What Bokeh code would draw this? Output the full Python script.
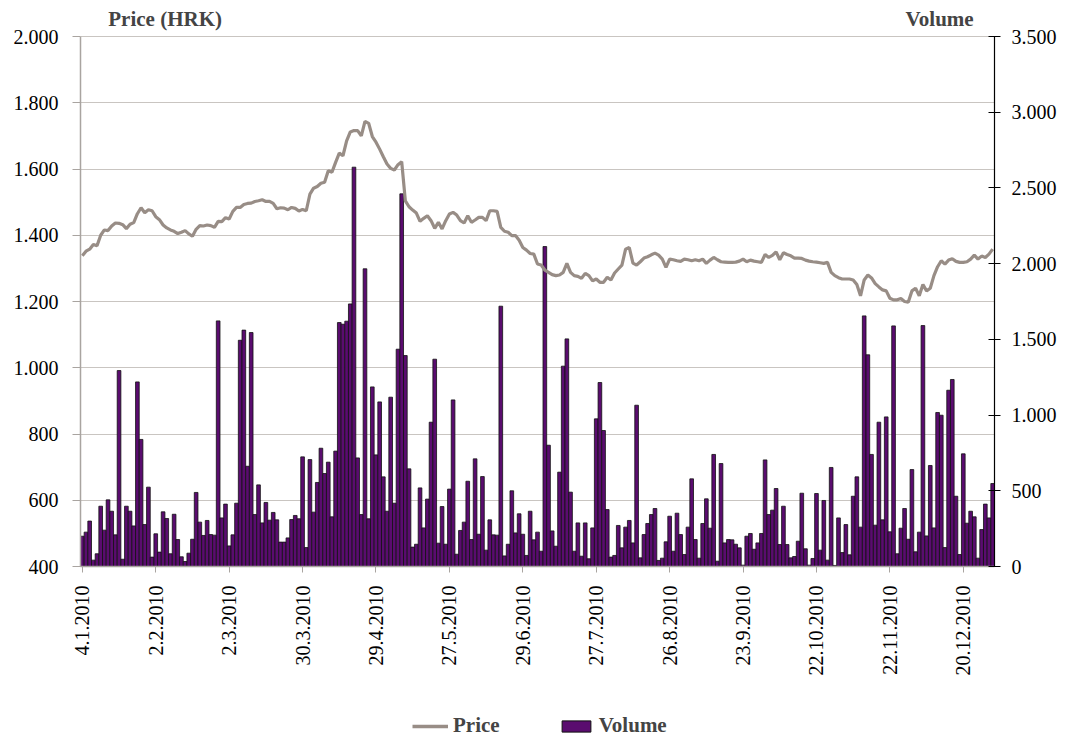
from math import pi
from bokeh.plotting import figure
from bokeh.layouts import column
from bokeh.models import (Range1d, LinearAxis, FixedTicker, Legend, LegendItem, Label)
from bokeh.embed import file_html
from bokeh.resources import INLINE

# ---------------- data ----------------
price = [
    1338, 1352, 1358, 1372, 1368, 1400, 1416, 1414, 1428, 1437,
    1436, 1432, 1420, 1433, 1438, 1465, 1483, 1468, 1477, 1474,
    1456, 1447, 1431, 1422, 1416, 1412, 1405, 1409, 1414, 1404,
    1397, 1418, 1429, 1428, 1431, 1429, 1424, 1442, 1441, 1453,
    1449, 1472, 1484, 1484, 1493, 1496, 1497, 1502, 1504, 1507,
    1502, 1502, 1496, 1480, 1483, 1482, 1477, 1484, 1481, 1473,
    1478, 1474, 1524, 1542, 1547, 1557, 1560, 1595, 1590, 1620,
    1648, 1640, 1685, 1712, 1716, 1716, 1700, 1744, 1738, 1698,
    1681, 1660, 1637, 1615, 1602, 1597, 1613, 1622, 1504, 1486,
    1476, 1467, 1442, 1451, 1459, 1444, 1421, 1439, 1419, 1444,
    1464, 1469, 1461, 1444, 1437, 1459, 1439, 1446, 1454, 1454,
    1444, 1474, 1474, 1472, 1424, 1412, 1409, 1399, 1399, 1385,
    1363, 1355, 1345, 1343, 1313, 1310, 1295, 1288, 1281, 1278,
    1280, 1288, 1315, 1288, 1278, 1276, 1270, 1285, 1278, 1262,
    1268, 1258, 1258, 1273, 1265, 1286, 1298, 1310, 1358, 1363,
    1316, 1310, 1320, 1331, 1335, 1341, 1346, 1340, 1328, 1303,
    1328, 1326, 1323, 1321, 1328, 1326, 1323, 1326, 1323, 1328,
    1315, 1325, 1333, 1326, 1320, 1319, 1318, 1318, 1319, 1322,
    1328, 1320, 1325, 1322, 1320, 1318, 1342, 1333, 1339, 1350,
    1326, 1347, 1342, 1338, 1331, 1331, 1330, 1325, 1322, 1320,
    1319, 1317, 1315, 1318, 1288, 1278, 1272, 1268, 1268, 1268,
    1265, 1251, 1217, 1265, 1280, 1271, 1254, 1244, 1235, 1232,
    1210, 1205, 1205, 1209, 1200, 1198, 1232, 1240, 1217, 1251,
    1232, 1240, 1278, 1305, 1323, 1313, 1325, 1329, 1321, 1318,
    1318, 1320, 1328, 1340, 1328, 1337, 1333, 1343, 1358,
]

volume = [
    200, 227, 300, 42, 84, 398, 240, 440, 365, 209,
    1294, 48, 398, 365, 268, 1219, 839, 277, 524, 62,
    216, 95, 361, 317, 84, 345, 178, 64, 33, 88,
    180, 489, 293, 205, 304, 211, 207, 1622, 321, 412,
    136, 209, 418, 1494, 1561, 662, 1545, 343, 539, 288,
    423, 306, 357, 308, 161, 161, 189, 310, 337, 315,
    724, 125, 706, 359, 555, 781, 614, 689, 328, 762,
    1611, 1600, 1620, 1734, 2637, 717, 343, 1966, 315, 1186,
    737, 1087, 592, 365, 1118, 418, 1435, 2461, 1393, 645,
    128, 147, 519, 255, 445, 953, 1369, 154, 396, 147,
    511, 1100, 81, 238, 293, 563, 178, 711, 213, 594,
    108, 308, 209, 207, 1719, 70, 147, 500, 222, 348,
    213, 73, 365, 176, 227, 101, 2113, 801, 235, 134,
    623, 1323, 1503, 491, 101, 288, 68, 288, 51, 255,
    975, 1215, 898, 376, 62, 73, 271, 123, 260, 304,
    156, 1065, 57, 211, 284, 343, 383, 40, 55, 163,
    332, 101, 352, 211, 79, 260, 579, 178, 55, 284,
    447, 253, 740, 35, 680, 156, 178, 176, 147, 123,
    9, 200, 218, 114, 156, 218, 704, 343, 372, 515,
    145, 398, 145, 57, 66, 167, 484, 117, 9, 53,
    482, 108, 436, 42, 654, 7, 321, 92, 277, 77,
    464, 592, 260, 1655, 1398, 740, 273, 953, 308, 988,
    229, 1589, 84, 253, 383, 180, 640, 97, 227, 1591,
    202, 667, 255, 1017, 999, 125, 1164, 1235, 464, 79,
    744, 286, 365, 328, 55, 244, 412, 321, 548,
]

date_labels = ["4.1.2010", "2.2.2010", "2.3.2010", "30.3.2010", "29.4.2010",
               "27.5.2010", "29.6.2010", "27.7.2010", "26.8.2010", "23.9.2010",
               "22.10.2010", "22.11.2010", "20.12.2010"]
label_every = 20

price_ticks = [400, 600, 800, 1000, 1200, 1400, 1600, 1800, 2000]
volume_ticks = [0, 500, 1000, 1500, 2000, 2500, 3000, 3500]
price_min, price_max = 400, 2000
vol_min, vol_max = 0, 3500


def fmt(v):
    return f"{v:,}".replace(",", ".")


# ---------------- layout geometry (pixels) ----------------
W = 1059
MAIN_H = 712
LEG_H = 28
FR_LEFT, FR_RIGHT, PLOT_TOP, FR_BOTTOM = 80, 1001, 36, 566
plot_h = FR_BOTTOM - PLOT_TOP
p_per_px = (price_max - price_min) / plot_h
v_per_px = (vol_max - vol_min) / plot_h

N = len(price)
xs = list(range(N))
FONT = "Liberation Serif"
GRID = "#C9C5C1"
AXISG = "#A9A4A0"
LINE_C = "#988D86"
BAR_C = "#5A0C6F"

p = figure(width=W, height=MAIN_H,
           x_range=Range1d(-0.5, N - 0.5),
           y_range=Range1d(price_min, price_max + PLOT_TOP * p_per_px),
           output_backend="svg", toolbar_location=None,
           min_border_left=FR_LEFT, min_border_right=W - FR_RIGHT,
           min_border_top=0, min_border_bottom=MAIN_H - FR_BOTTOM)
p.extra_y_ranges = {"vol": Range1d(vol_min, vol_max + PLOT_TOP * v_per_px)}
p.outline_line_color = None
p.background_fill_color = "white"
p.border_fill_color = "white"

bars = p.vbar(x=xs, top=volume, bottom=0, width=1.0, y_range_name="vol",
              fill_color=BAR_C, line_color="#111111", line_width=0.8)
line = p.line(xs, price, line_color=LINE_C, line_width=3.2)

# grid
p.xgrid.visible = False
p.ygrid.ticker = FixedTicker(ticks=price_ticks)
p.ygrid.grid_line_color = GRID
p.ygrid.grid_line_width = 1.2

# left axis
ya = p.yaxis[0]
ya.bounds = (price_min, price_max)
ya.ticker = FixedTicker(ticks=price_ticks)
ya.major_label_overrides = {t: fmt(t) for t in price_ticks}
ya.axis_line_color = AXISG
ya.axis_line_width = 1.5
ya.major_tick_line_color = AXISG
ya.major_tick_in = 0
ya.major_tick_out = 8
ya.minor_tick_line_color = None
ya.major_label_standoff = 14
ya.major_label_text_font = FONT
ya.major_label_text_font_size = "20px"
ya.major_label_text_color = "black"

# right axis
ra = LinearAxis(y_range_name="vol", ticker=FixedTicker(ticks=volume_ticks),
                bounds=(vol_min, vol_max))
ra.major_label_overrides = {t: fmt(t) for t in volume_ticks}
ra.axis_line_color = "black"
ra.axis_line_width = 1.2
ra.major_tick_line_color = "black"
ra.major_tick_in = 6
ra.major_tick_out = 6
ra.minor_tick_line_color = None
ra.major_label_standoff = 11
ra.major_label_text_font = FONT
ra.major_label_text_font_size = "20px"
ra.major_label_text_color = "black"
p.add_layout(ra, "right")

# bottom axis
xa = p.xaxis[0]
tick_pos = [i * label_every for i in range(len(date_labels))]
xa.ticker = FixedTicker(ticks=tick_pos)
xa.major_label_overrides = {t: d for t, d in zip(tick_pos, date_labels)}
xa.major_label_orientation = pi / 2
xa.axis_line_color = AXISG
xa.axis_line_width = 1.5
xa.major_tick_line_color = AXISG
xa.major_tick_in = 0
xa.major_tick_out = 6
xa.minor_tick_line_color = None
xa.major_label_standoff = 13
xa.major_label_text_font = FONT
xa.major_label_text_font_size = "20px"
xa.major_label_text_color = "black"

# axis titles (inside the frame's headroom above the 2.000 line)
px_to_x = N / (FR_RIGHT - FR_LEFT)
title_y = price_max + (PLOT_TOP - 18) * p_per_px
p.add_layout(Label(x=(108 - FR_LEFT) * px_to_x - 0.5, y=title_y, text="Price (HRK)",
                   text_font=FONT, text_font_size="21px", text_font_style="bold",
                   text_baseline="middle", text_align="left"))
p.add_layout(Label(x=(980 - FR_LEFT) * px_to_x - 0.5, y=title_y, text="Volume",
                   text_font=FONT, text_font_size="21px", text_font_style="bold",
                   text_baseline="middle", text_align="right"))

# ---------------- legend strip (frame aligned with the chart's frame) ----------------
lg = figure(width=W, height=LEG_H, x_range=Range1d(0, 1), y_range=Range1d(0, 1),
            output_backend="svg", toolbar_location=None,
            x_axis_location=None, y_axis_location=None,
            min_border_left=FR_LEFT, min_border_right=W - FR_RIGHT,
            min_border_top=0, min_border_bottom=0)
lg.grid.visible = False
lg.outline_line_color = None
lg.background_fill_color = "white"
lg.border_fill_color = "white"
# sample renderers placed outside the visible range: only their legend glyphs show
l_line = lg.line(x=[-5, -4], y=[-5, -5], line_color=LINE_C, line_width=3.5)
l_bar = lg.vbar(x=[-5], top=[-4], bottom=-5, width=1, fill_color=BAR_C,
                line_color="#111111", line_width=1)
legend = Legend(items=[LegendItem(label="Price", renderers=[l_line]),
                       LegendItem(label="Volume", renderers=[l_bar])],
                orientation="horizontal", location=(332, 2),
                label_text_font=FONT, label_text_font_size="21px",
                label_text_font_style="bold", label_standoff=5,
                glyph_width=36, glyph_height=14, spacing=58,
                padding=0, margin=0, border_line_color=None,
                background_fill_alpha=0)
lg.add_layout(legend, "center")

open("out.html", "w").write(file_html(column(p, lg, spacing=0), INLINE))
